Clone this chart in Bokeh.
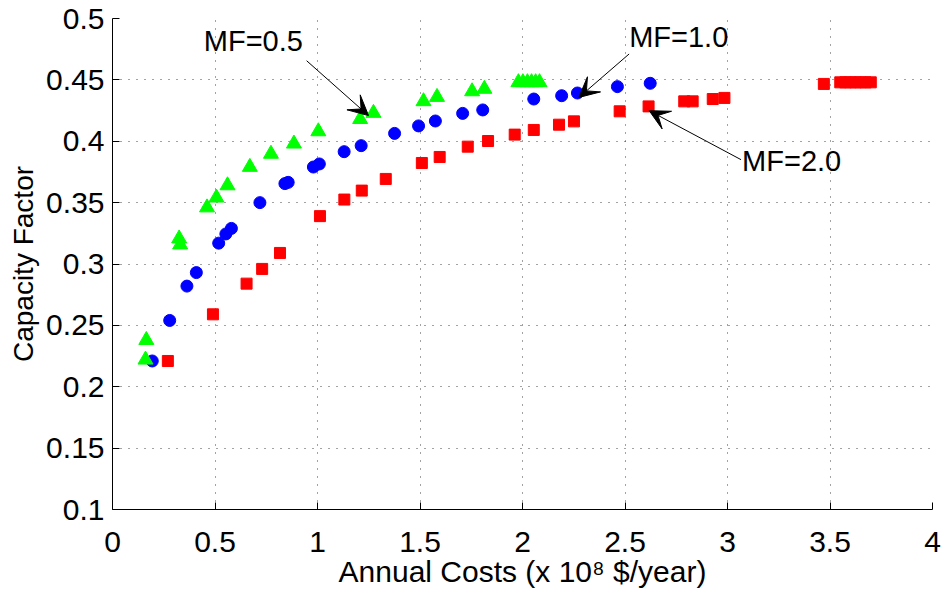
from bokeh.plotting import figure
from bokeh.models import Range1d, FixedTicker, Arrow, VeeHead, Label
from bokeh.embed import file_html
from bokeh.resources import INLINE

# ---- data ----
mf05_x = [0.161, 0.165, 0.325, 0.330, 0.461, 0.507, 0.561, 0.670, 0.773, 0.885, 1.004, 1.208, 1.273,
          1.517, 1.583, 1.754, 1.814, 1.980, 2.002, 2.024, 2.044, 2.064, 2.083]
mf05_y = [0.222, 0.238, 0.3207, 0.3158, 0.346, 0.354, 0.364, 0.379, 0.3897, 0.398, 0.408, 0.418, 0.423,
          0.4325, 0.436, 0.4406, 0.4426, 0.448, 0.448, 0.448, 0.448, 0.448, 0.448]

mf10_x = [0.194, 0.279, 0.363, 0.409, 0.518, 0.553, 0.580, 0.719, 0.841, 0.857, 0.980, 1.009, 1.130,
          1.213, 1.376, 1.493, 1.575, 1.708, 1.806, 2.055, 2.191, 2.268, 2.463, 2.623]
mf10_y = [0.221, 0.254, 0.282, 0.293, 0.317, 0.3245, 0.329, 0.350, 0.3655, 0.3665, 0.379, 0.3815, 0.3915,
          0.3964, 0.4064, 0.4125, 0.4165, 0.4227, 0.4255, 0.4344, 0.4371, 0.4393, 0.4445, 0.4472]

mf20_x = [0.270, 0.490, 0.654, 0.730, 0.817, 1.012, 1.131, 1.216, 1.333, 1.509, 1.596, 1.733, 1.832,
          1.962, 2.055, 2.178, 2.251, 2.474, 2.615, 2.789, 2.830, 2.928, 2.985, 3.470, 3.550, 3.575,
          3.599, 3.624, 3.648, 3.673, 3.699]
mf20_y = [0.221, 0.259, 0.284, 0.296, 0.309, 0.339, 0.3525, 0.3598, 0.3693, 0.3823, 0.3872, 0.3956, 0.4002,
          0.4054, 0.4092, 0.4135, 0.4162, 0.4244, 0.4284, 0.4325, 0.4325, 0.4344, 0.4353, 0.4467, 0.448, 0.448,
          0.448, 0.448, 0.448, 0.448, 0.448]

x_ticks = [0, 0.5, 1, 1.5, 2, 2.5, 3, 3.5, 4]
x_tick_labels = ["0", "0.5", "1", "1.5", "2", "2.5", "3", "3.5", "4"]
y_ticks = [0.1, 0.15, 0.2, 0.25, 0.3, 0.35, 0.4, 0.45, 0.5]
y_tick_labels = ["0.1", "0.15", "0.2", "0.25", "0.3", "0.35", "0.4", "0.45", "0.5"]

# annotations: label, text position, arrow start, arrow end
ann_labels = ["MF=0.5", "MF=1.0", "MF=2.0"]
ann_text_x = [0.687, 2.762, 3.313]
ann_text_y = [0.4819, 0.485, 0.3842]
ann_start_x = [0.947, 2.520, 3.066]
ann_start_y = [0.4656, 0.4711, 0.385]
ann_end_x = [1.249, 2.275, 2.618]
ann_end_y = [0.4209, 0.4357, 0.4249]

FONT = "Liberation Sans"
FS = "30px"

p = figure(width=943, height=595, output_backend="svg", toolbar_location=None,
           x_range=Range1d(0, 4), y_range=Range1d(0.1, 0.5),
           min_border_left=112, min_border_right=11, min_border_top=18, min_border_bottom=86)
p.outline_line_color = None
p.background_fill_color = "white"
p.border_fill_color = "white"

for ax in (p.xaxis[0], p.yaxis[0]):
    ax.major_tick_in = 7
    ax.major_tick_out = 0
    ax.minor_tick_in = 0
    ax.minor_tick_out = 0
    ax.axis_line_color = "black"
    ax.major_tick_line_color = "black"
    ax.major_label_text_font = FONT
    ax.major_label_text_font_size = FS
    ax.major_label_text_color = "black"
    ax.axis_label_text_font = FONT
    ax.axis_label_text_font_size = FS
    ax.axis_label_text_font_style = "normal"
    ax.axis_label_text_color = "black"

p.yaxis.axis_label_text_font_size = "28px"
p.xaxis.ticker = FixedTicker(ticks=x_ticks)
p.yaxis.ticker = FixedTicker(ticks=y_ticks)
p.xaxis.major_label_overrides = dict(zip(x_ticks, x_tick_labels))
p.yaxis.major_label_overrides = dict(zip(y_ticks, y_tick_labels))
p.xaxis.axis_label = "Annual Costs (x 10\u2078 $/year)"
p.yaxis.axis_label = "Capacity Factor"
p.xaxis.major_label_standoff = 22
p.yaxis.major_label_standoff = 8
p.xaxis.axis_label_standoff = 0
p.yaxis.axis_label_standoff = 4

for g in (p.xgrid[0], p.ygrid[0]):
    g.grid_line_color = "#333333"
    g.grid_line_dash = "1 7"
    g.grid_line_width = 1
    g.grid_line_alpha = 0.9

p.scatter(mf20_x, mf20_y, marker="square", size=11, color="#FF0000")
p.scatter(mf10_x, mf10_y, marker="circle", size=12, color="#0000FF")
p.scatter(mf05_x, mf05_y, marker="triangle", size=15, color="#00FF00")

for i in range(len(ann_labels)):
    p.add_layout(Arrow(end=VeeHead(size=20, fill_color="black", line_color="black"),
                       x_start=ann_start_x[i], y_start=ann_start_y[i],
                       x_end=ann_end_x[i], y_end=ann_end_y[i],
                       line_color="black", line_width=1))
    p.add_layout(Label(x=ann_text_x[i], y=ann_text_y[i], text=ann_labels[i],
                       text_align="center", text_baseline="middle",
                       text_font=FONT, text_font_size="29px", text_color="black"))

open("out.html", "w").write(file_html(p, INLINE))
